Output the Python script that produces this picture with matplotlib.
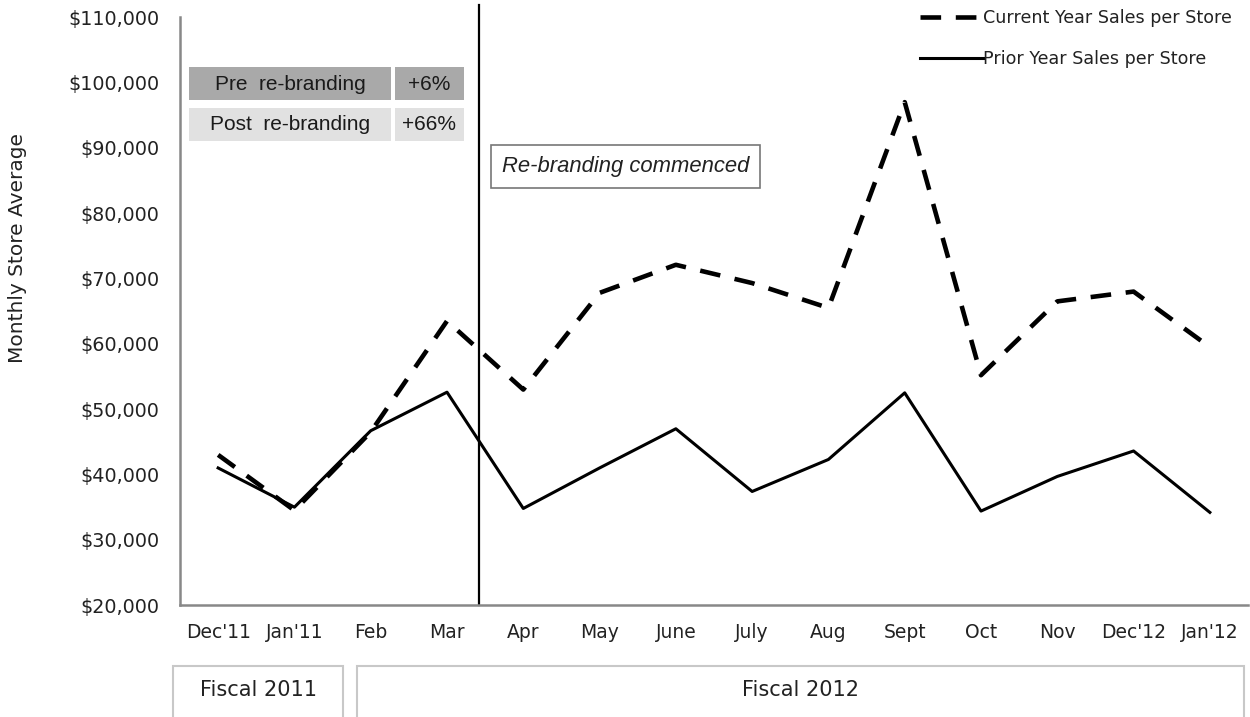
import numpy as np
import matplotlib.pyplot as plt
from matplotlib.patches import Rectangle

months = ["Dec'11", "Jan'11", "Feb", "Mar", "Apr", "May", "June", "July",
          "Aug", "Sept", "Oct", "Nov", "Dec'12", "Jan'12"]
current_year = [43000, 34500, 46500, 63500, 53000, 67800, 72100, 69300,
                65500, 97000, 55200, 66500, 68000, 59500]
prior_year = [41000, 35000, 46700, 52600, 34800, 41000, 47000, 37400,
              42300, 52500, 34400, 39700, 43600, 34200]
rebrand_at = 3.42  # between Mar and Apr

table_rows = ["Pre  re-branding", "Post  re-branding"]
table_vals = ["+6%", "+66%"]
table_colors = ["#a9a9a9", "#e1e1e1"]

fiscal_labels = ["Fiscal 2011", "Fiscal 2012"]

ytick_vals = np.arange(20000, 110001, 10000)

fig = plt.figure(figsize=(12.5, 7.17), dpi=100)
ax = fig.add_axes([0.144, 0.156, 0.8544, 0.82])

x = np.arange(len(months))
ax.plot(x, current_year, color='black', lw=3.3, dashes=(4.5, 3.2),
        label='Current Year Sales per Store')
ax.plot(x, prior_year, color='black', lw=2.2, label='Prior Year Sales per Store')

ax.set_xlim(-0.5, 13.5)
ax.set_ylim(20000, 110000)
ax.set_xticks(x)
ax.set_xticklabels(months, fontsize=13.5, color='#222222')
ax.set_yticks(ytick_vals)
ax.set_yticklabels([f"${v:,.0f}" for v in ytick_vals], fontsize=13.8, color='#222222')
ax.tick_params(length=0)
ax.tick_params(axis='y', pad=15)
ax.tick_params(axis='x', pad=13)

for s in ['top', 'right']:
    ax.spines[s].set_visible(False)
for s in ['left', 'bottom']:
    ax.spines[s].set_color('#888888')
    ax.spines[s].set_linewidth(1.8)

# re-branding marker line (runs a bit above the axes top)
ax.plot([rebrand_at, rebrand_at], [20000, 111800], color='black', lw=1.6, clip_on=False)
ax.text(rebrand_at + 0.3, 87150, "Re-branding commenced", fontsize=15.8, style='italic',
        family='Liberation Sans', color='#222222', va='center', ha='left',
        bbox=dict(boxstyle='square,pad=0.5', fc='white', ec='#777777', lw=1.2))

# pre/post table
fig_w, fig_h = 1250, 717
def fig_rect(x0, y0, w, h, color):
    fig.patches.append(Rectangle((x0 / fig_w, 1 - (y0 + h) / fig_h), w / fig_w, h / fig_h,
                                 transform=fig.transFigure, fc=color, ec='none'))

narrow = ['Liberation Sans Narrow', 'Liberation Sans']
for i, (lab, val, col) in enumerate(zip(table_rows, table_vals, table_colors)):
    top = 67 + i * 41
    fig_rect(189, top, 202, 33, col)
    fig_rect(395, top, 69, 33, col)
    fig.text(290 / fig_w, 1 - (top + 17) / fig_h, lab, fontsize=15, family=narrow,
             ha='center', va='center', color='#1a1a1a')
    fig.text(429 / fig_w, 1 - (top + 17) / fig_h, val, fontsize=15, family=narrow,
             ha='center', va='center', color='#1a1a1a')

# fiscal year boxes
fiscal_boxes = [(173, 170), (357, 887)]
for (bx, bw), lab in zip(fiscal_boxes, fiscal_labels):
    fig.patches.append(Rectangle((bx / fig_w, -0.01), bw / fig_w, (717 - 666) / fig_h + 0.01,
                                 transform=fig.transFigure, fc='white', ec='#c8c8c8', lw=1.5))
    fig.text((bx + bw / 2) / fig_w, 1 - 690 / fig_h, lab, fontsize=15,
             ha='center', va='center', color='#222222')

fig.text(18 / fig_w, 1 - 248 / fig_h, "Monthly Store Average", rotation=90,
         fontsize=14.5, ha='center', va='center', color='#222222')

leg = ax.legend(loc='upper right', bbox_to_anchor=(1.0, 1.04), frameon=False,
                fontsize=12.6, handlelength=3.6, handletextpad=0.0, labelspacing=1.3)
for t in leg.get_texts():
    t.set_color('#222222')

fig.savefig('out.png', dpi=100)
